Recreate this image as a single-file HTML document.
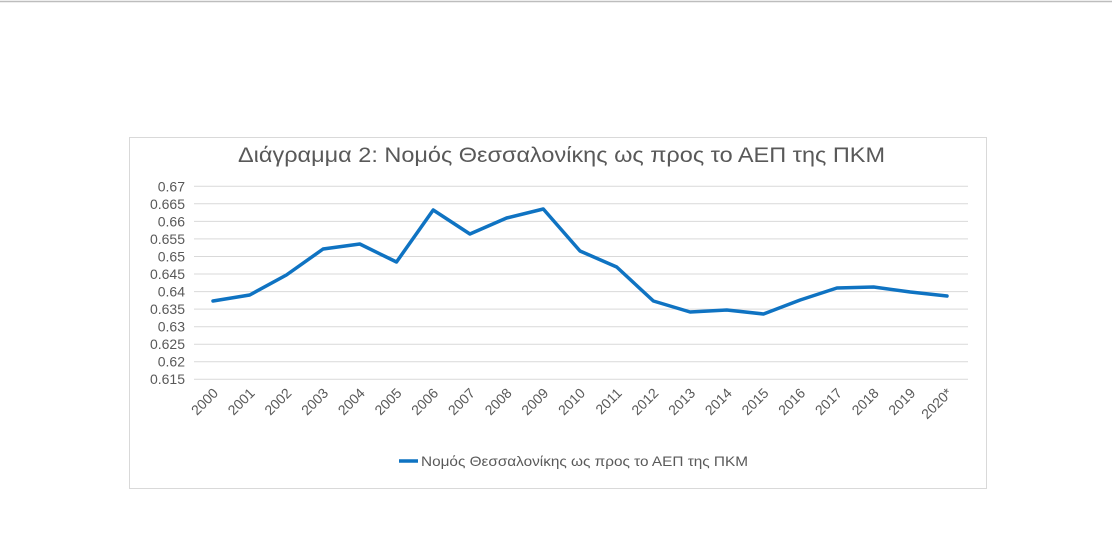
<!DOCTYPE html>
<html><head><meta charset="utf-8"><style>
body{margin:0;background:#fff;width:1112px;height:532px;overflow:hidden}
svg text{font-family:"Liberation Sans","DejaVu Sans",sans-serif;fill:#595959}
</style></head><body>
<svg width="1112" height="532" xmlns="http://www.w3.org/2000/svg">
<line x1="0" y1="1.5" x2="1112" y2="1.5" stroke="#bdbdbd" stroke-width="1.5"/>
<rect x="129.5" y="137.5" width="857" height="351" fill="#fff" stroke="#d9d9d9"/>
<text x="238" y="162" font-size="21" textLength="647" lengthAdjust="spacingAndGlyphs">Διάγραμμα 2: Νομός Θεσσαλονίκης ως προς το ΑΕΠ της ΠΚΜ</text>
<g stroke="#d9d9d9" stroke-width="1">
<line x1="194" x2="968" y1="186.3" y2="186.3"/><line x1="194" x2="968" y1="203.8" y2="203.8"/>
<line x1="194" x2="968" y1="221.4" y2="221.4"/><line x1="194" x2="968" y1="238.9" y2="238.9"/>
<line x1="194" x2="968" y1="256.5" y2="256.5"/><line x1="194" x2="968" y1="274" y2="274"/>
<line x1="194" x2="968" y1="291.6" y2="291.6"/><line x1="194" x2="968" y1="309.1" y2="309.1"/>
<line x1="194" x2="968" y1="326.7" y2="326.7"/><line x1="194" x2="968" y1="344.2" y2="344.2"/>
<line x1="194" x2="968" y1="361.8" y2="361.8"/><line x1="194" x2="968" y1="379.3" y2="379.3"/>
</g>
<g font-size="14" text-anchor="end">
<text x="185" y="191.5">0.67</text><text x="185" y="209">0.665</text><text x="185" y="226.5">0.66</text>
<text x="185" y="244">0.655</text><text x="185" y="261.5">0.65</text><text x="185" y="279">0.645</text>
<text x="185" y="296.5">0.64</text><text x="185" y="314">0.635</text><text x="185" y="331.5">0.63</text>
<text x="185" y="349">0.625</text><text x="185" y="366.5">0.62</text><text x="185" y="384">0.615</text>
</g>
<polyline fill="none" stroke="#0f73c2" stroke-width="3.5" stroke-linejoin="round" stroke-linecap="round"
points="213,301 249.7,295 286.4,275 323.1,249 359.8,244 396.5,262 433.2,210 469.9,234 506.6,218 543.3,209 580,251 616.7,267 653.4,301 690.1,312 726.8,310 763.5,314 800.2,300 836.9,288 873.6,287 910.3,292 947,296"/>
<g font-size="14" text-anchor="end">
<text transform="translate(219,394) rotate(-45)">2000</text>
<text transform="translate(255.7,394) rotate(-45)">2001</text>
<text transform="translate(292.4,394) rotate(-45)">2002</text>
<text transform="translate(329.1,394) rotate(-45)">2003</text>
<text transform="translate(365.8,394) rotate(-45)">2004</text>
<text transform="translate(402.5,394) rotate(-45)">2005</text>
<text transform="translate(439.2,394) rotate(-45)">2006</text>
<text transform="translate(475.9,394) rotate(-45)">2007</text>
<text transform="translate(512.6,394) rotate(-45)">2008</text>
<text transform="translate(549.3,394) rotate(-45)">2009</text>
<text transform="translate(586,394) rotate(-45)">2010</text>
<text transform="translate(622.7,394) rotate(-45)">2011</text>
<text transform="translate(659.4,394) rotate(-45)">2012</text>
<text transform="translate(696.1,394) rotate(-45)">2013</text>
<text transform="translate(732.8,394) rotate(-45)">2014</text>
<text transform="translate(769.5,394) rotate(-45)">2015</text>
<text transform="translate(806.2,394) rotate(-45)">2016</text>
<text transform="translate(842.9,394) rotate(-45)">2017</text>
<text transform="translate(879.6,394) rotate(-45)">2018</text>
<text transform="translate(916.3,394) rotate(-45)">2019</text>
<text transform="translate(953,394) rotate(-45)">2020*</text>
</g>
<line x1="399" y1="461" x2="418" y2="461" stroke="#0f73c2" stroke-width="3.5"/>
<text x="421" y="466" font-size="14" textLength="327" lengthAdjust="spacingAndGlyphs">Νομός Θεσσαλονίκης ως προς το ΑΕΠ της ΠΚΜ</text>
</svg>
</body></html>
